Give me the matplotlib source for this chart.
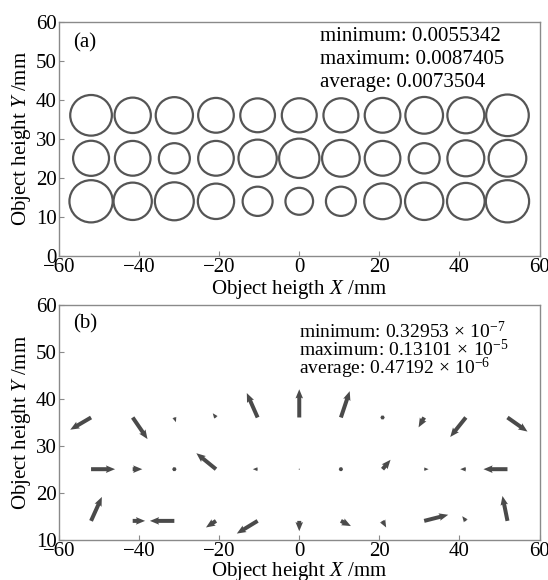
import numpy as np
import matplotlib
matplotlib.use("Agg")
import matplotlib.pyplot as plt
from matplotlib.patches import Circle

plt.rcParams['font.family'] = ['Liberation Serif', 'DejaVu Serif']
plt.rcParams['mathtext.fontset'] = 'custom'
plt.rcParams['mathtext.rm'] = 'Liberation Serif'
plt.rcParams['mathtext.it'] = 'Liberation Serif:italic'
plt.rcParams['axes.unicode_minus'] = True

# field points (mm)
field_x = [-52, -41.6, -31.2, -20.8, -10.4, 0, 10.4, 20.8, 31.2, 41.6, 52]
field_y = [36, 25, 14]

# (a) spot radius, drawn scale (one list per row, top to bottom)
spot_r_top = [5.2, 4.53, 4.65, 4.45, 4.33, 4.36, 4.36, 4.45, 4.7, 4.61, 5.32]
spot_r_mid = [4.49, 4.45, 3.87, 4.45, 4.78, 5.03, 4.7, 4.45, 3.87, 4.61, 4.7]
spot_r_bot = [5.4, 4.78, 4.86, 4.53, 3.74, 3.45, 3.74, 4.58, 4.78, 4.7, 5.4]

# (b) distortion vectors, drawn scale
u_top = [-5.2, 3.7, 0.4, -0.8, -2.7, 0, 2.2, 0, -1.4, -3.9, 5.0]
v_top = [-2.6, -4.6, -1.0, 0.9, 5.2, 6.0, 5.6, 0, -2.1, -4.15, -3.0]
u_mid = [6.0, 2.4, 0, -4.9, -1.2, 0, 0, 2.0, 1.1, -1.4, -6.0]
v_mid = [0, 0, 0, 3.4, 0, 0, 0, 2.0, 0, 0, 0]
u_bot = [2.7, 3.1, -6.1, -2.5, -5.2, 0, 2.5, 0.9, 6.0, -0.9, -1.25]
v_bot = [5.1, 0, 0, -1.4, -2.7, -2.2, -1.1, -1.4, 1.3, 1.0, 5.3]

text_a = ["minimum: 0.0055342", "maximum: 0.0087405", "average: 0.0073504"]
text_b = [r"minimum: 0.32953$\,\times\,$10$^{-7}$",
          r"maximum: 0.13101$\,\times\,$10$^{-5}$",
          r"average: 0.47192$\,\times\,$10$^{-6}$"]

xticks = [-60, -40, -20, 0, 20, 40, 60]

fig = plt.figure(figsize=(5.48, 5.80), dpi=100)
ax1 = fig.add_axes([0.1077, 0.5586, 0.8768, 0.4043])
ax2 = fig.add_axes([0.1077, 0.0695, 0.8768, 0.4052])

spine_c = '#8a8a8a'
mark_c = '#555555'


def style(ax):
    for s in ax.spines.values():
        s.set_color(spine_c)
        s.set_linewidth(1.0)
    ax.tick_params(direction='in', length=3.5, width=0.8, color=spine_c,
                   labelsize=15, pad=1.5, top=False, right=False)
    ax.set_xticks(xticks)
    ax.set_xlim(-60, 60)


# (a) spot diagram sizes
style(ax1)
ax1.set_ylim(0, 60)
ax1.set_yticks(range(0, 61, 10))
for row_y, radii in zip(field_y, [spot_r_top, spot_r_mid, spot_r_bot]):
    for fx, r in zip(field_x, radii):
        ax1.add_patch(Circle((fx, row_y), r, fill=False, ec=mark_c, lw=1.6))
ax1.text(-56.5, 54.6, "(a)", fontsize=15, va='center')
for t, yy in zip(text_a, [56.1, 50.2, 44.4]):
    ax1.text(5.2, yy, t, fontsize=15, va='center')
ax1.set_xlabel(r"Object heigth $X$ /mm", fontsize=15, labelpad=0.5)
ax1.set_ylabel(r"Object height $Y$ /mm", fontsize=15, labelpad=2)

# (b) distortion grid
style(ax2)
ax2.set_ylim(10, 60)
ax2.set_yticks(range(10, 61, 10))
X, Y = np.meshgrid(field_x, field_y)
U = np.array([u_top, u_mid, u_bot])
V = np.array([v_top, v_mid, v_bot])
center = (X == 0) & (Y == 25)
q_kw = dict(angles='xy', scale_units='xy', scale=1, color='#4a4a4a',
            width=0.0083, headwidth=1.9, headlength=2.3, headaxislength=2.1)
ax2.quiver(X[~center], Y[~center], U[~center], V[~center], minlength=1.1, **q_kw)
ax2.quiver(X[center], Y[center], U[center], V[center], minlength=0.3, **q_kw)
ax2.text(-56.5, 56.0, "(b)", fontsize=15, va='center')
for t, yy in zip(text_b, [54.3, 50.4, 46.5]):
    ax2.text(0, yy, t, fontsize=14, va='center')
ax2.set_xlabel(r"Object height $X$ /mm", fontsize=15, labelpad=-0.5)
ax2.set_ylabel(r"Object height $Y$ /mm", fontsize=15, labelpad=2)

fig.savefig("out.png", dpi=100)
